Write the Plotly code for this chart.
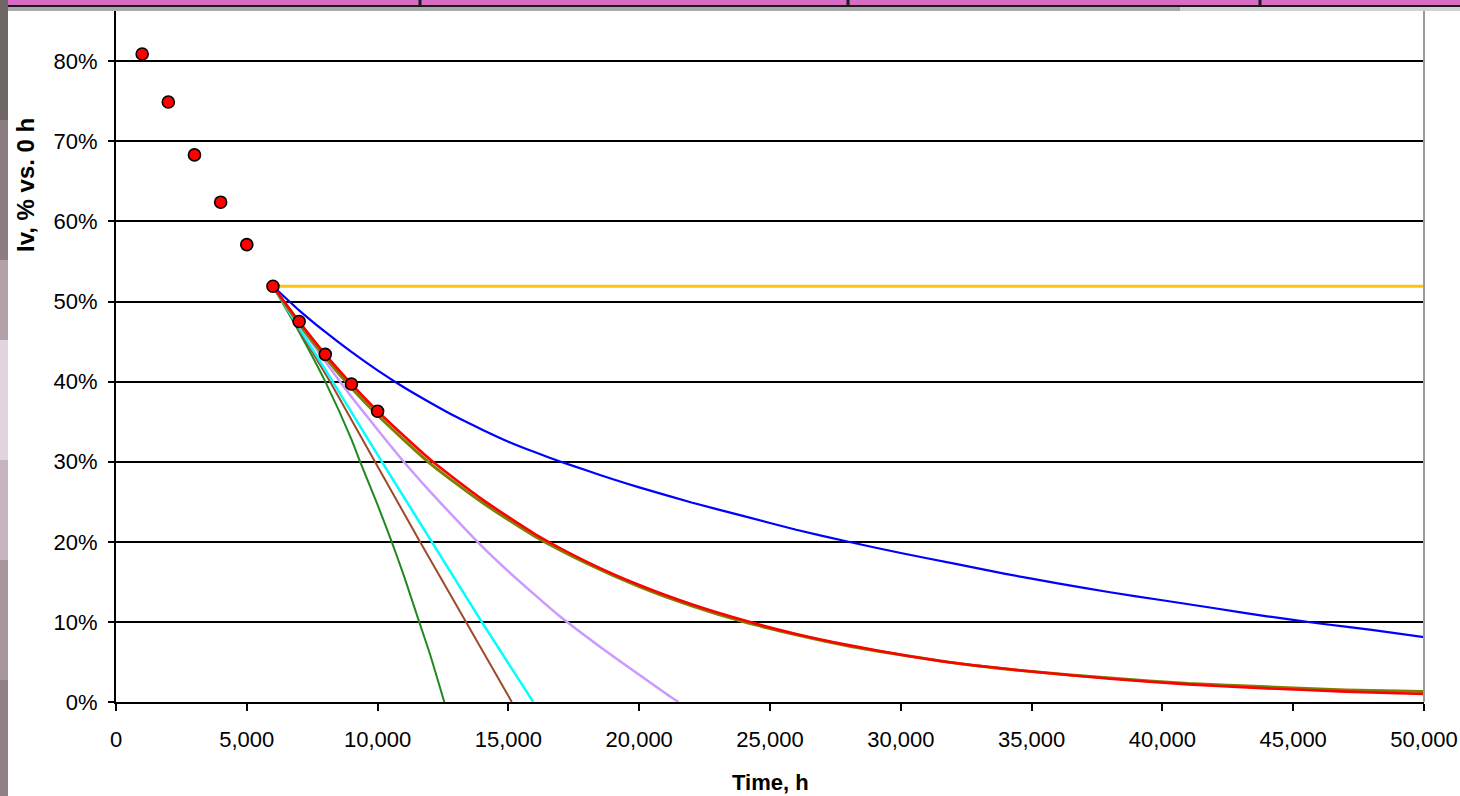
import plotly.graph_objects as go

# ---------------- data ----------------
hours_measured = [1000, 2000, 3000, 4000, 5000, 6000, 7000, 8000, 9000, 10000]
iv_measured = [0.809, 0.749, 0.683, 0.624, 0.571, 0.519, 0.475, 0.434, 0.397, 0.363]

hours_flat = [6000, 50000]
iv_flat = [0.519, 0.519]

hours_blue = [6000, 7000, 8000, 9000, 10000, 11000, 12000, 13000, 14000, 15000, 16000,
              17000, 18000, 19000, 20000, 22000, 24000, 26000, 28000, 30000, 32000,
              34000, 36000, 38000, 40000, 42000, 44000, 46000, 48000, 50000]
iv_blue = [0.519, 0.489, 0.462, 0.437, 0.414, 0.393, 0.374, 0.356, 0.340, 0.325, 0.312,
           0.300, 0.289, 0.278, 0.268, 0.249, 0.232, 0.215, 0.200, 0.186, 0.173,
           0.160, 0.148, 0.137, 0.127, 0.117, 0.107, 0.098, 0.090, 0.081]

hours_fit = [6000, 7000, 8000, 9000, 10000, 12000, 14000, 16000, 18000, 20000, 22000,
             24000, 26000, 28000, 30000, 32000, 35000, 38000, 41000, 44000, 47000, 50000]
iv_red = [0.519, 0.475, 0.434, 0.397, 0.363, 0.303, 0.253, 0.210, 0.175, 0.146, 0.122,
          0.102, 0.085, 0.071, 0.059, 0.049, 0.038, 0.029, 0.022, 0.017, 0.013, 0.010]
iv_olive = [0.519, 0.472, 0.430, 0.392, 0.358, 0.298, 0.249, 0.207, 0.173, 0.144, 0.120,
            0.100, 0.084, 0.070, 0.059, 0.049, 0.038, 0.030, 0.023, 0.019, 0.015, 0.013]

hours_purple = [6000, 7000, 8000, 9000, 10000, 11000, 12000, 13000, 14000, 15000, 16000,
                17000, 18000, 19000, 20000, 21000, 21500]
iv_purple = [0.519, 0.471, 0.425, 0.381, 0.340, 0.300, 0.263, 0.228, 0.194, 0.163, 0.134,
             0.106, 0.081, 0.057, 0.034, 0.011, 0.0]

hours_cyan = [6000, 8000, 10160, 12070, 13980, 15950]
iv_cyan = [0.519, 0.415, 0.300, 0.200, 0.100, 0.0]

hours_brown = [6000, 8180, 9900, 11620, 13380, 15130]
iv_brown = [0.519, 0.400, 0.300, 0.200, 0.100, 0.0]

hours_green = [6000, 7000, 8000, 9000, 9330, 10000, 10540, 11000, 11590, 12000, 12550]
iv_green = [0.519, 0.462, 0.400, 0.328, 0.300, 0.246, 0.200, 0.158, 0.100, 0.060, 0.0]

x_ticks = [0, 5000, 10000, 15000, 20000, 25000, 30000, 35000, 40000, 45000, 50000]
y_ticks = [0, 0.1, 0.2, 0.3, 0.4, 0.5, 0.6, 0.7, 0.8]

# ---------------- figure ----------------
W, H = 1460, 796
L, R, T, B = 116, 1424, 11, 702  # plot area in pixels

fig = go.Figure()

def line(x, y, color, width, shape="spline"):
    fig.add_trace(go.Scatter(x=x, y=y, mode="lines",
                             line=dict(color=color, width=width, shape=shape, smoothing=0.6),
                             hoverinfo="skip", showlegend=False))

line(hours_flat, iv_flat, "#FFC20E", 3, "linear")
line(hours_blue, iv_blue, "#0000FF", 2.2)
line(hours_green, iv_green, "#1E8A1E", 2)
line(hours_brown, iv_brown, "#A0482A", 2, "linear")
line(hours_cyan, iv_cyan, "#00FFFF", 2.5, "linear")
line(hours_purple, iv_purple, "#CC99FF", 2.5)
line(hours_fit, iv_olive, "#7F7F00", 3)
line(hours_fit, iv_red, "#FF0000", 2.6)

fig.add_trace(go.Scatter(x=hours_measured, y=iv_measured, mode="markers",
                         marker=dict(size=12, color="#FF0000",
                                     line=dict(color="#000000", width=1.6)),
                         hoverinfo="skip", showlegend=False))

tick_font = dict(family="Liberation Sans, Arial", size=22, color="#000000")

fig.update_xaxes(range=[0, 50000], tickvals=x_ticks, tickformat=",d",
                 showgrid=False, zeroline=False, automargin=False,
                 showline=True, linecolor="#000000", linewidth=2,
                 ticks="outside", ticklen=7, tickwidth=2, tickcolor="#000000",
                 tickfont=tick_font, ticklabelstandoff=10, ticklabeloverflow="allow")
fig.update_yaxes(range=[0, (B - T) / 80.1 / 10], tickvals=y_ticks, tickformat=".0%",
                 showgrid=True, gridcolor="#000000", gridwidth=2, zeroline=False,
                 automargin=False,
                 showline=True, linecolor="#000000", linewidth=2,
                 ticks="outside", ticklen=6, tickwidth=2, tickcolor="#000000",
                 tickfont=tick_font, ticklabelstandoff=6)

def px(xp):
    return (xp - L) / (R - L)

def py(yp):
    return (B - yp) / (B - T)

shapes = []
# right border of plot area (grey)
shapes.append(dict(type="line", xref="paper", yref="paper", x0=1, x1=1, y0=0, y1=1,
                   line=dict(color="#9A9A9A", width=2)))
# top slide decoration: grey band, pink strip, black rule and separators
shapes.append(dict(type="rect", xref="paper", yref="paper", x0=px(0), x1=px(W),
                   y0=py(11), y1=py(6), fillcolor="#A8A8A8", line=dict(width=0), layer="above"))
shapes.append(dict(type="rect", xref="paper", yref="paper", x0=px(1180), x1=px(W),
                   y0=py(11), y1=py(6), fillcolor="#D2D2D2", line=dict(width=0), layer="above"))
shapes.append(dict(type="rect", xref="paper", yref="paper", x0=px(0), x1=px(W),
                   y0=py(5), y1=py(-1), fillcolor="#D86CC4", line=dict(width=0), layer="above"))
shapes.append(dict(type="rect", xref="paper", yref="paper", x0=px(0), x1=px(W),
                   y0=py(7), y1=py(5), fillcolor="#1A1A1A", line=dict(width=0), layer="above"))
for sx in [2, 420, 848, 1260]:
    shapes.append(dict(type="rect", xref="paper", yref="paper", x0=px(sx - 1.5), x1=px(sx + 1.5),
                       y0=py(7), y1=py(-1), fillcolor="#1A1A1A", line=dict(width=0), layer="above"))
# left slide decoration strip
left_cols = [(0, 120, "#6E6664"), (120, 260, "#8C7E80"), (260, 340, "#B4A0A8"),
             (340, 460, "#E2D4DC"), (460, 560, "#C8B4BE"), (560, 680, "#A8949C"),
             (680, 797, "#8E8084")]
for y0p, y1p, c in left_cols:
    shapes.append(dict(type="rect", xref="paper", yref="paper", x0=px(0), x1=px(8),
                       y0=py(y1p), y1=py(y0p), fillcolor=c, line=dict(width=0), layer="above"))

annotations = [
    dict(text="<b>Iv, % vs. 0 h</b>", xref="paper", yref="paper", x=px(25), y=py(185),
         xanchor="center", yanchor="middle", textangle=-90, showarrow=False,
         font=dict(family="Liberation Sans, Arial", size=24, color="#000000")),
    dict(text="<b>Time, h</b>", xref="paper", yref="paper", x=0.5, y=py(782),
         xanchor="center", yanchor="middle", showarrow=False,
         font=dict(family="Liberation Sans, Arial", size=22, color="#000000")),
]

fig.update_layout(width=W, height=H,
                  margin=dict(l=L, r=W - R, t=T, b=H - B, pad=0, autoexpand=False),
                  paper_bgcolor="#FFFFFF", plot_bgcolor="#FFFFFF",
                  showlegend=False, shapes=shapes, annotations=annotations)

fig.write_html("out.html")
